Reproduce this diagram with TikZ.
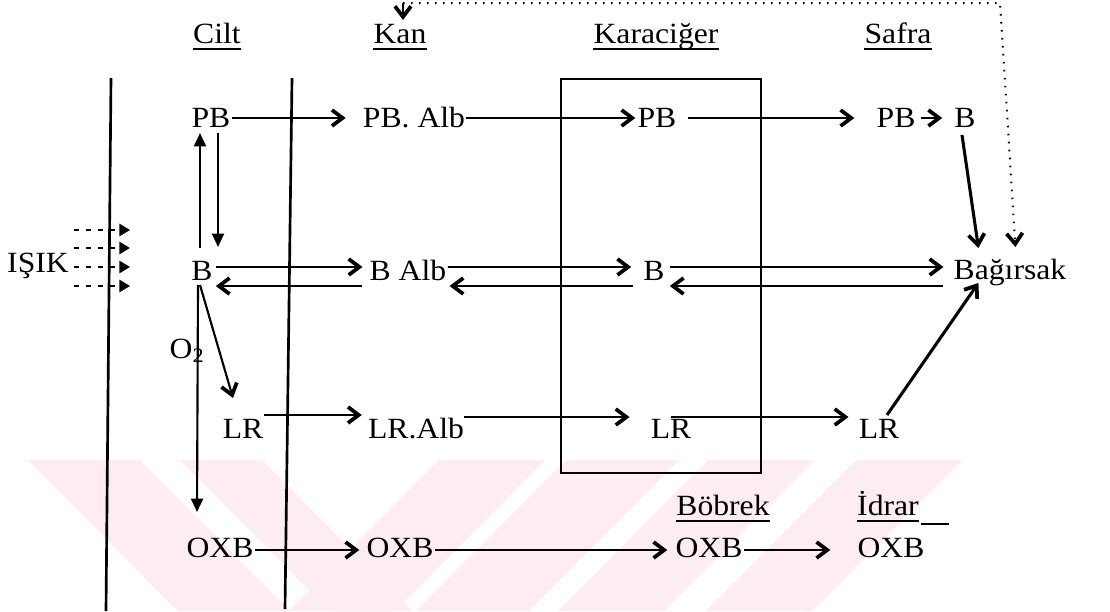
\documentclass[tikz,border=0pt]{standalone}
\usepackage{fontspec}
\setmainfont{Liberation Serif}[FakeStretch=1.08]
\usetikzlibrary{arrows.meta,calc}
\definecolor{wm}{RGB}{253,236,240}
\tikzset{
  lbl/.style={inner sep=0pt, anchor=base, font=\fontsize{22}{26}\selectfont},
  uline/.style={line width=1.2pt},
  barb/.tip={Straight Barb[length=8pt,width=12pt,line width=2.8pt]},
  arr/.style={line width=1.6pt, -barb},
  thickarr/.style={line width=2.3pt, -barb},
  tri/.style={line width=1.6pt, -{Triangle[length=10pt,width=9pt]}},
  membrane/.style={line width=2pt},
  liverbox/.style={line width=1.7pt},
  dotline/.style={line width=1.5pt, dash pattern=on 1.2pt off 4.8pt},
  ray/.style={line width=2pt, dash pattern=on 3.5pt off 5.5pt, -{Triangle[length=8pt,width=9pt]}},
}
\begin{document}
\begin{tikzpicture}[x=0.75pt,y=-0.75pt]
\useasboundingbox (0,0) rectangle (1110,611);

% faint stripes in the background
\fill[wm] (28,460) -- (140,460) -- (290,611) -- (178,611) -- cycle;
\fill[wm] (180,460) -- (262,460) -- (412,611) -- (330,611) -- cycle;
\fill[wm] (439,460) -- (545,460) -- (395,611) -- (289,611) -- cycle;
\fill[wm] (566,460) -- (679,460) -- (529,611) -- (416,611) -- cycle;
\fill[wm] (708,460) -- (814,460) -- (664,611) -- (558,611) -- cycle;
\fill[wm] (856,460) -- (962,460) -- (812,611) -- (706,611) -- cycle;

% membranes and the liver compartment
\draw[membrane] (111,78) -- (106,611);
\draw[membrane] (292,78) -- (285,609);
\draw[liverbox] (561,79) rectangle (761,473);

% column headings
\node[lbl] (cilt) at (217,43) {Cilt};
\node[lbl] (kan) at (400,43) {Kan};
\node[lbl] (karaciger) at (656,43) {Karaciğer};
\node[lbl] (safra) at (898,43) {Safra};
\node[lbl] (bobrek) at (723,515) {Böbrek};
\node[lbl] (idrar) at (888,515) {İdrar};
\foreach \h in {cilt,kan,karaciger,safra,bobrek,idrar}
  \draw[uline] ($(\h.base west)+(0,6)$) -- ($(\h.base east)+(0,6)$);
\draw[uline] ($(idrar.base east)+(2,9)$) -- +(28,0);

% species
\node[lbl] (isik) at (38,272) {IŞIK};
\node[lbl] (pbC) at (211,127) {PB};
\node[lbl] (pbK) at (414,127) {PB. Alb};
\node[lbl] (pbL) at (657,127) {PB};
\node[lbl] (pbS) at (896,127) {PB};
\node[lbl] (bS) at (965,127) {B};
\node[lbl] (bC) at (202,280) {B};
\node[lbl] (bK) at (408,280) {B Alb};
\node[lbl] (bL) at (654,280) {B};
\node[lbl] (bag) at (1010,279) {Bağırsak};
\node[lbl] (o2) at (187,358) {O\textsubscript{2}};
\node[lbl] (lrC) at (243,438) {LR};
\node[lbl] (lrK) at (416,438) {LR.Alb};
\node[lbl] (lrL) at (671,438) {LR};
\node[lbl] (lrS) at (879,438) {LR};
\node[lbl] (oxC) at (220,557) {OXB};
\node[lbl] (oxK) at (400,557) {OXB};
\node[lbl] (oxL) at (709,557) {OXB};
\node[lbl] (oxS) at (891,557) {OXB};

% light entering the skin
\foreach \dy in {-42,-24,-5,14}
  \draw[ray] ($(isik.base east)+(5,\dy)$) -- +(56,0);

% photobilirubin row
\draw[arr] ($(pbC.base east)+(1,-9)$) -- ($(pbK.base west)+(-17,-9)$);
\draw[arr] ($(pbK.base east)+(1,-9)$) -- ($(pbL.base west)+(-2,-9)$);
\draw[arr] ($(pbL.base east)+(11,-9)$) -- ($(pbS.base west)+(-22,-9)$);
\draw[arr] ($(pbS.base east)+(5,-9)$) -- ($(bS.base west)+(-12,-9)$);

% bilirubin row
\draw[arr] ($(bC.base east)+(3,-13)$) -- ($(bK.base west)+(-7,-13)$);
\draw[arr] ($(bK.base east)+(1,-13)$) -- ($(bL.base west)+(-12,-13)$);
\draw[arr] ($(bL.base east)+(5,-13)$) -- ($(bag.base west)+(-10,-12)$);
\draw[arr] ($(bK.base west)+(-7,6)$) -- ($(bC.base east)+(3,6)$);
\draw[arr] ($(bL.base west)+(-10,6)$) -- ($(bK.base east)+(3,6)$);
\draw[arr] ($(bag.base west)+(-10,7)$) -- ($(bL.base east)+(5,6)$);

% transformations in the skin
\draw[tri] ($(bC.base)+(-2,-32)$) -- ($(pbC.base)+(-11,6)$);
\draw[tri] ($(pbC.base)+(7,6)$) -- ($(bC.base)+(16,-33)$);
\draw[tri] ($(bC.base)+(-4,5)$) -- ($(oxC.base)+(-23,-45)$);
\draw[arr] ($(bC.base)+(-2,5)$) -- ($(lrC.base)+(-10,-40)$);

% lumirubin row
\draw[arr] ($(lrC.base east)+(0,-23)$) -- ($(lrK.base west)+(-6,-23)$);
\draw[arr] ($(lrK.base east)+(0,-21)$) -- ($(lrL.base west)+(-21,-21)$);
\draw[arr] ($(lrL.base west)+(20,-21)$) -- ($(lrS.base west)+(-10,-21)$);
\draw[thickarr] ($(lrS.base)+(8,-23)$) -- ($(bag.base west)+(25,4)$);

% bile to intestine
\draw[thickarr] ($(bS.base)+(-3,8)$) -- ($(bag.base west)+(25,-31)$);

% enterohepatic return
\coordinate (cornerL) at (403,3);
\coordinate (cornerR) at (1000,3);
\draw[dotline, -barb] (cornerL) -- (cornerR) -- ($(bag.base west)+(62,-32)$);
\draw[arr] (cornerL) -- ($(kan.base)+(3,-23)$);

% oxidation products row
\draw[arr] ($(oxC.base east)+(1,-7)$) -- ($(oxK.base west)+(-7,-7)$);
\draw[arr] ($(oxK.base east)+(1,-7)$) -- ($(oxL.base west)+(-8,-7)$);
\draw[arr] ($(oxL.base east)+(1,-7)$) -- ($(oxS.base west)+(-27,-7)$);
\end{tikzpicture}
\end{document}
